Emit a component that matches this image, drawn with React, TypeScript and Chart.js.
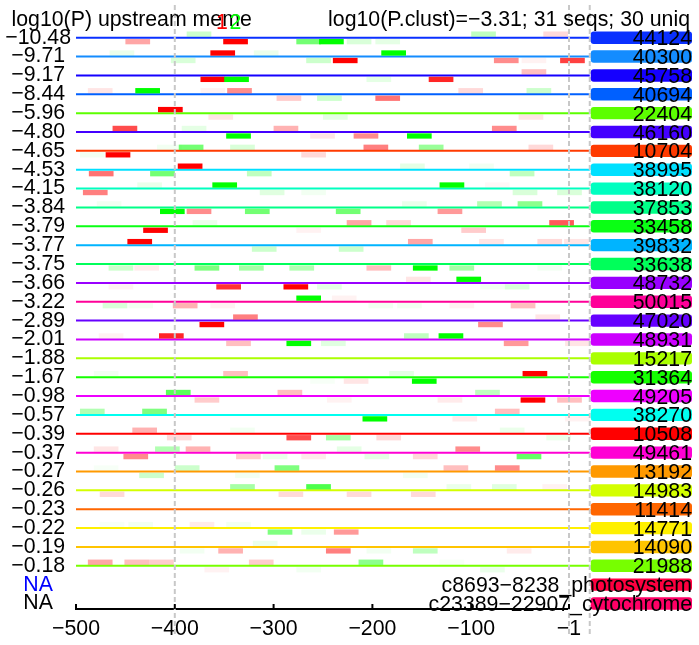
import { useEffect, useRef } from "react";
import { Chart, registerables } from "chart.js";

Chart.register(...registerables);

// ---------- data ----------
const rowLogP: (number | null)[] = [
  -10.48, -9.71, -9.17, -8.44, -5.96, -4.8, -4.65, -4.53, -4.15, -3.84, -3.79, -3.77, -3.75, -3.66, -3.22,
  -2.89, -2.01, -1.88, -1.67, -0.98, -0.57, -0.39, -0.37, -0.27, -0.26, -0.23, -0.22, -0.19, -0.18, null, null,
];
const rowIds = [
  "44124", "40300", "45758", "40694", "22404", "46160", "10704", "38995", "38120", "37853", "33458", "39832",
  "33638", "48732", "50015", "47020", "48931", "15217", "31364", "49205", "38270", "10508", "49461", "13192",
  "14983", "11414", "14771", "14090", "21988", "c8693\u22128238_photosystem", "c23389\u221222907_cytochrome",
];
const rowColors = [
  "#0a30ff", "#148cff", "#1500ff", "#0060ff", "#5cff00", "#4400ff", "#ff3a00", "#00e0ff", "#00ffc0", "#00ff88",
  "#0aff14", "#00b4ff", "#00ff5a", "#9900ff", "#ff0099", "#6600ff", "#cc00ff", "#aaff00", "#15ff00", "#ee00ff",
  "#00fff0", "#ff0000", "#ff00d4", "#ff9900", "#d4ff00", "#ff6600", "#fff000", "#ffc400", "#77ff00", "#ff0040",
  "#ff0066",
];
const naLabelColors = ["#0000ff", "#000000"];

const xTicks = [-500, -400, -300, -200, -100, -1];
const xMin = -500;
const xMax = -1;
const lineEnd = 20;
const guideLines = [-400, -1, 20];

const titleLeft = "log10(P) upstream meme";
const titleRight = "log10(P.clust)=\u22123.31; 31 seqs; 30 uniq";
const motifLabels = ["1", "2"];
const motifColors = ["255,0,0", "0,255,0"];
const motifWidth = 25;

// [row, start, side (1 above / -1 below), alpha]
const motif1Sites: number[][] = [
  [0, -450, -1, 0.35], [0, -351, -1, 1], [0, -27, 1, 0.15],
  [1, -364, 1, 1], [1, -240, -1, 1], [1, -77, -1, 0.45], [1, -49, -1, 0.05], [1, -10, -1, 0.75],
  [2, -374, -1, 1], [2, -49, 1, 0.25], [2, -143, -1, 0.85],
  [3, -488, 1, 0.1], [3, -374, 1, 0.05], [3, -347, 1, 0.45], [3, -297, -1, 0.2], [3, -113, 1, 0.15], [3, -197, -1, 0.55],
  [4, -417, 1, 1], [4, -366, -1, 0.1], [4, -52, -1, 0.1],
  [5, -463, 1, 0.7], [5, -300, 1, 0.3], [5, -263, -1, 0.1], [5, -79, 1, 0.45], [5, -219, -1, 0.45],
  [6, -470, -1, 1], [6, -272, -1, 0.15], [6, -209, 1, 0.5], [6, -42, 1, 0.15],
  [7, -397, 1, 1], [7, -487, -1, 0.55],
  [8, -493, -1, 0.5], [8, -86, 1, 0.03],
  [9, -388, -1, 0.45], [9, -134, -1, 0.4],
  [10, -432, -1, 1], [10, -226, 1, 0.35], [10, -186, 1, 0.15], [10, -21, 1, 0.65], [10, -110, -1, 0.2], [10, -277, -1, 0.05],
  [11, -448, 1, 1], [11, -164, 1, 0.35], [11, -92, 1, 0.1], [11, -33, 1, 0.15], [11, -6, 1, 0.1],
  [12, -441, -1, 0.08], [12, -206, -1, 0.25],
  [13, -467, -1, 0.05], [13, -358, -1, 0.8], [13, -290, -1, 1], [13, -166, 1, 0.1],
  [14, -241, 1, 0.05], [14, -402, -1, 0.3], [14, -364, -1, 0.05], [14, -122, -1, 0.05], [14, -60, -1, 0.25],
  [15, -341, 1, 0.5], [15, -375, -1, 1], [15, -35, 1, 0.1], [15, -93, -1, 0.45],
  [16, -477, 1, 0.05], [16, -416, 1, 0.85], [16, -348, -1, 0.25], [16, -67, -1, 0.4], [16, -5, -1, 0.1],
  [18, -351, 1, 0.25], [18, -229, -1, 0.1], [18, -48, 1, 1],
  [19, -296, 1, 0.25], [19, -380, -1, 0.2], [19, -246, -1, 0.05], [19, -134, -1, 0.08], [19, -50, -1, 1], [19, -13, -1, 0.25],
  [20, -76, 1, 0.25], [20, -119, -1, 0.08], [20, -5, -1, 0.05],
  [21, -443, 1, 0.3], [21, -408, -1, 0.15], [21, -287, -1, 0.7], [21, -196, -1, 0.15],
  [22, -482, 1, 0.1], [22, -389, 1, 0.3], [22, -116, 1, 0.45], [22, -452, -1, 0.45], [22, -338, -1, 0.2], [22, -272, -1, 0.08], [22, -159, -1, 0.15],
  [23, -128, 1, 0.25], [23, -76, 1, 0.45],
  [24, -476, -1, 0.15], [24, -295, -1, 0.15], [24, -226, -1, 0.15], [24, -161, -1, 0.15], [24, -28, 1, 0.05],
  [26, -385, 1, 0.08], [26, -239, -1, 0.4],
  [27, -356, -1, 0.3], [27, -247, -1, 0.5], [27, -64, -1, 0.08],
  [28, -488, 1, 0.35], [28, -451, 1, 0.25], [28, -426, 1, 0.2], [28, -325, 1, 0.2], [28, -370, -1, 0.05],
];
const motif2Sites: number[][] = [
  [0, -388, 1, 0.2], [0, -277, -1, 0.55], [0, -254, -1, 1], [0, -226, -1, 0.15], [0, -197, -1, 0.1], [0, -100, 1, 0.25],
  [1, -466, 1, 0.08], [1, -320, 1, 0.08], [1, -404, -1, 0.15], [1, -267, -1, 0.2], [1, -191, 1, 1],
  [2, -350, -1, 1], [2, -206, -1, 0.1],
  [3, -440, 1, 1], [3, -256, -1, 0.2], [3, -44, 1, 0.2],
  [4, -250, -1, 0.1],
  [5, -393, 1, 0.1], [5, -348, -1, 1], [5, -165, -1, 1],
  [6, -418, 1, 0.05], [6, -396, 1, 0.55], [6, -344, 1, 0.15], [6, -496, -1, 0.05], [6, -153, 1, 0.4],
  [7, -425, -1, 0.55], [7, -327, -1, 0.25], [7, -172, 1, 0.1], [7, -102, 1, 0.05], [7, -61, -1, 0.25],
  [8, -438, 1, 0.08], [8, -362, 1, 1], [8, -314, -1, 0.12], [8, -272, -1, 0.05], [8, -132, 1, 1], [8, -58, -1, 0.15], [8, -13, -1, 0.15],
  [9, -479, 1, 0.05], [9, -415, -1, 1], [9, -329, -1, 0.55], [9, -237, -1, 0.55], [9, -170, 1, 0.08], [9, -94, 1, 0.3], [9, -53, 1, 0.45],
  [10, -382, 1, 0.08],
  [11, -322, -1, 0.2], [11, -234, -1, 0.2],
  [12, -467, -1, 0.2], [12, -380, -1, 0.5], [12, -335, -1, 0.35], [12, -284, -1, 0.3], [12, -159, -1, 1], [12, -122, -1, 0.35], [12, -33, -1, 0.05],
  [13, -256, -1, 0.1], [13, -115, 1, 1], [13, -91, -1, 0.05], [13, -66, -1, 0.15],
  [14, -277, 1, 1], [14, -473, -1, 0.15], [14, -447, -1, 0.05], [14, -204, -1, 0.05], [14, -175, -1, 0.05],
  [16, -287, -1, 1], [16, -252, -1, 0.12], [16, -168, 1, 0.25], [16, -133, 1, 1],
  [18, -482, 1, 0.05], [18, -263, -1, 0.03], [18, -183, 1, 0.1], [18, -160, -1, 1],
  [19, -409, 1, 0.65], [19, -96, 1, 0.25],
  [20, -496, 1, 0.3], [20, -433, 1, 0.5], [20, -210, -1, 1],
  [21, -344, 1, 0.05], [21, -247, -1, 0.35], [21, -71, 1, 0.08], [21, -24, -1, 0.08],
  [22, -420, 1, 0.3], [22, -236, 1, 0.1], [22, -311, -1, 0.08], [22, -208, -1, 0.1], [22, -54, -1, 0.6],
  [23, -482, 1, 0.03], [23, -400, 1, 0.2], [23, -299, 1, 0.5], [23, -436, -1, 0.2], [23, -339, -1, 0.05], [23, -169, -1, 0.05],
  [24, -344, 1, 0.35], [24, -267, 1, 0.7], [24, -125, 1, 0.08], [24, -79, 1, 0.12],
  [26, -476, 1, 0.03], [26, -447, 1, 0.05], [26, -348, 1, 0.05], [26, -306, -1, 0.5], [26, -272, -1, 0.08],
  [27, -321, 1, 0.08], [27, -395, -1, 0.05], [27, -206, -1, 0.05], [27, -159, -1, 0.25],
  [28, -277, -1, 0.05], [28, -214, 1, 0.45], [28, -132, 1, 0.03], [28, -91, -1, 0.08],
];

// ---------- helpers ----------
const FONT = "'Liberation Sans', Arial, Helvetica, sans-serif";
const FS = 21.3;
const fmt = (v: number) => String(v).replace("-", "\u2212");
const fmtP = (v: number | null) => (v === null ? "NA" : v.toFixed(2).replace("-", "\u2212"));

export default function App() {
  const ref = useRef<HTMLCanvasElement>(null);

  useEffect(() => {
    document.body.style.margin = "0";
    const canvas = ref.current;
    if (!canvas) return;

    const sites = [
      ...motif1Sites.map((s) => ({ s, m: 0 })),
      ...motif2Sites.map((s) => ({ s, m: 1 })),
    ];

    const lineDatasets = rowLogP
      .map((v, i) => ({ v, i }))
      .filter((r) => r.v !== null)
      .map(({ i }) => ({
        type: "line" as const,
        indexAxis: "x" as const,
        data: [
          { x: xMin, y: i },
          { x: lineEnd, y: i },
        ],
        borderColor: rowColors[i],
        borderWidth: 2,
        pointRadius: 0,
        clip: false as any,
        order: 2,
      }));

    const barDataset = {
      type: "bar" as const,
      indexAxis: "y" as const,
      data: sites.map(({ s }) => ({
        x: [s[1], s[1] + motifWidth],
        y: s[0] + (s[2] > 0 ? -0.19 : 0.21),
      })),
      backgroundColor: sites.map(({ s, m }) => `rgba(${motifColors[m]},${s[3]})`),
      borderWidth: 0,
      barThickness: 5.3,
      inflateAmount: 0,
      clip: false as any,
      order: 1,
    };

    const overlay = {
      id: "overlay",
      afterDatasetsDraw(chart: any) {
        const { ctx, scales } = chart;
        const x = scales.x;
        ctx.save();
        ctx.strokeStyle = "#c8c8c8";
        ctx.lineWidth = 2;
        ctx.setLineDash([5, 3]);
        for (const g of guideLines) {
          const px = x.getPixelForValue(g);
          ctx.beginPath();
          ctx.moveTo(px, 5);
          ctx.lineTo(px, 637);
          ctx.stroke();
        }
        ctx.restore();
      },
      afterDraw(chart: any) {
        const { ctx, scales, chartArea } = chart;
        const x = scales.x;
        const y = scales.y;
        ctx.save();
        // upward tick marks
        ctx.strokeStyle = "#000";
        ctx.lineWidth = 2;
        for (const t of xTicks) {
          const px = x.getPixelForValue(t);
          ctx.beginPath();
          ctx.moveTo(px, chartArea.bottom);
          ctx.lineTo(px, chartArea.bottom - 5);
          ctx.stroke();
        }
        // right-hand id boxes
        const boxL = x.getPixelForValue(lineEnd) + 1;
        const boxR = 692;
        ctx.font = `${FS}px ${FONT}`;
        ctx.textAlign = "right";
        ctx.textBaseline = "alphabetic";
        rowIds.forEach((id, i) => {
          const py = y.getPixelForValue(i);
          ctx.fillStyle = rowColors[i];
          ctx.beginPath();
          if ((ctx as any).roundRect) (ctx as any).roundRect(boxL, py - 6.2, boxR - boxL, 12.4, 3);
          else ctx.rect(boxL, py - 6.2, boxR - boxL, 12.4);
          ctx.fill();
          ctx.fillStyle = "#000";
          ctx.fillText(id, boxR, py + 7.5);
        });
        // titles
        ctx.textAlign = "left";
        ctx.fillStyle = "#000";
        ctx.fillText(titleLeft, 11.5, 26);
        ctx.fillStyle = `rgb(${motifColors[0]})`;
        ctx.fillText(motifLabels[0], 216, 29);
        ctx.fillStyle = `rgb(${motifColors[1]})`;
        ctx.fillText(motifLabels[1], 229.5, 29);
        ctx.textAlign = "right";
        ctx.fillStyle = "#000";
        ctx.fillText(titleRight, 690, 26);
        ctx.restore();
      },
    };

    let naCount = 0;
    const tickColors = rowLogP.map((v) => (v === null ? naLabelColors[naCount++] : "#000000"));

    const chart = new Chart(canvas, {
      type: "bar",
      data: { datasets: [barDataset as any, ...(lineDatasets as any[])] },
      options: {
        animation: false,
        responsive: true,
        maintainAspectRatio: false,
        layout: { padding: { top: 8, right: 130, left: 0, bottom: 0 } },
        plugins: { legend: { display: false }, tooltip: { enabled: false }, title: { display: false } },
        scales: {
          x: {
            type: "linear",
            position: "bottom",
            offset: false,
            min: xMin,
            max: xMax,
            grid: { display: false, drawTicks: false, offset: false },
            border: { display: true, color: "#000", width: 2 },
            afterBuildTicks: (s: any) => {
              s.ticks = xTicks.map((v) => ({ value: v }));
            },
            afterFit: (s: any) => {
              s.height = 36;
              s.paddingLeft = 0;
              s.paddingRight = 0;
            },
            ticks: {
              autoSkip: false,
              maxRotation: 0,
              padding: 7,
              color: "#000",
              font: { family: FONT, size: FS },
              callback: (v: any) => fmt(Number(v)),
            },
          },
          y: {
            type: "linear",
            position: "left",
            offset: false,
            reverse: true,
            min: -1.575,
            max: 30.29,
            grid: { display: false, drawTicks: false, offset: false },
            border: { display: false },
            afterBuildTicks: (s: any) => {
              s.ticks = rowLogP.map((_, i) => ({ value: i }));
            },
            afterFit: (s: any) => {
              s.width = 76;
              s.paddingTop = 0;
              s.paddingBottom = 0;
            },
            ticks: {
              autoSkip: false,
              crossAlign: "center",
              padding: 5,
              font: { family: FONT, size: FS },
              color: (c: any) => tickColors[c.tick ? c.tick.value : 0] || "#000",
              callback: (v: any) => fmtP(rowLogP[Number(v)] ?? null),
            },
          },
        },
      } as any,
      plugins: [overlay],
    });

    return () => chart.destroy();
  }, []);

  return (
    <div style={{ position: "relative", width: 699, height: 645 }}>
      <canvas ref={ref} />
    </div>
  );
}
